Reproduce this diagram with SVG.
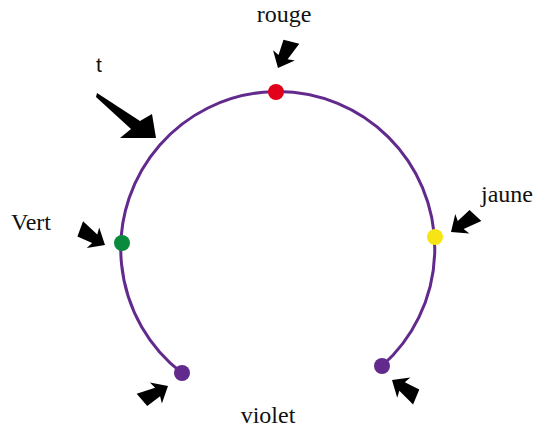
<svg xmlns="http://www.w3.org/2000/svg" width="537" height="428" viewBox="0 0 537 428">
<style>
.lbl{font-family:"Liberation Serif","Times New Roman",serif;font-size:24px;fill:#111}
.arr{fill:#000}
</style>
<defs>
<polygon id="sa" points="0,0 -14,-12 -12,-5 -31,-9 -28,7 -12,5 -14,12"/>
</defs>
<rect width="537" height="428" fill="#fff"/>
<g id="connectors">
<path d="M 182 373 A 157 157 0 1 1 382 366" fill="none" stroke="#612a8c" stroke-width="3"/>
<polygon class="arr" points="97,93 140,121 152,114 156,138 120,138 131,129 96,97"/>
<use href="#sa" class="arr" transform="translate(278,68) rotate(115)"/>
<use href="#sa" class="arr" transform="translate(105,245) rotate(31)"/>
<use href="#sa" class="arr" transform="translate(451,232) rotate(144)"/>
<use href="#sa" class="arr" transform="translate(168,386) rotate(-30)"/>
<use href="#sa" class="arr" transform="translate(392,380) rotate(213)"/>
</g>
<g id="rouge"><circle cx="276" cy="92" r="8" fill="#e2001a"/><text class="lbl" x="284" y="22" text-anchor="middle">rouge</text></g>
<g id="vert"><circle cx="122" cy="243" r="8" fill="#0a8a3c"/><text class="lbl" x="11" y="230">Vert</text></g>
<g id="jaune"><circle cx="435" cy="237" r="8" fill="#f7e414"/><text class="lbl" x="481" y="202">jaune</text></g>
<g id="violet1"><circle cx="182" cy="373" r="8" fill="#612a8c"/></g>
<g id="violet2"><circle cx="382" cy="366" r="8" fill="#612a8c"/></g>
<g id="violet"><text class="lbl" x="268" y="423" text-anchor="middle">violet</text></g>
<g id="t"><text x="96" y="72" style="font-family:'Liberation Sans',Arial,sans-serif;font-size:21px;fill:#111">t</text></g>
</svg>
